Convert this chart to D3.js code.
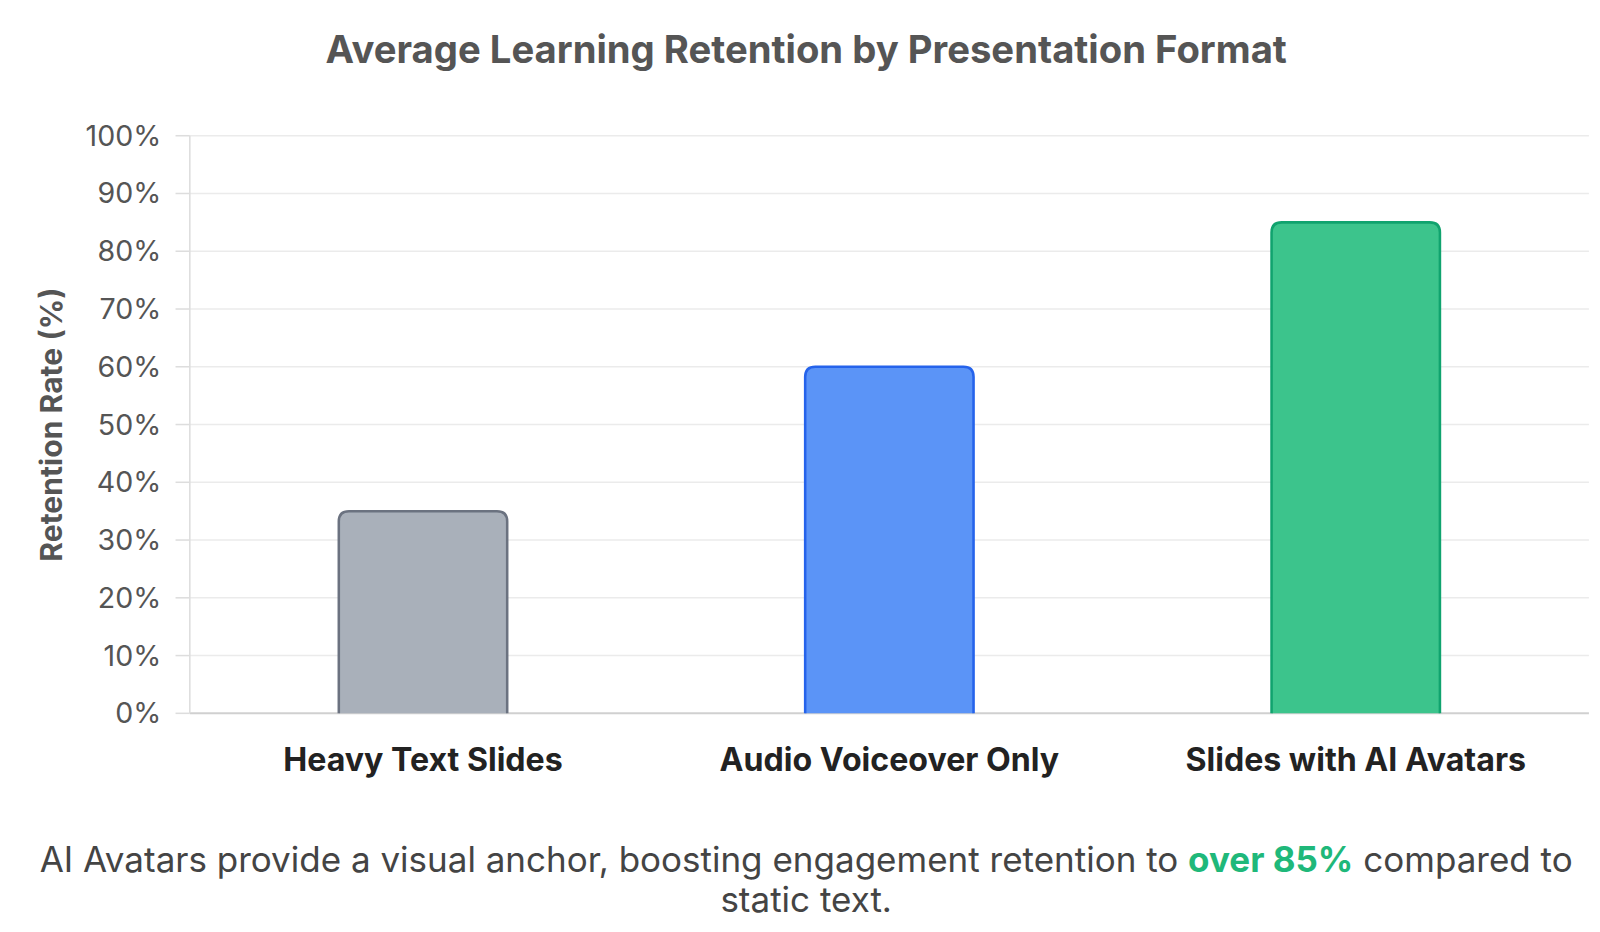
<!DOCTYPE html>
<html><head><meta charset="utf-8">
<script src="https://cdn.jsdelivr.net/npm/d3@7"></script>
<style>body{margin:0;background:#fff;font-family:"Helvetica Neue",Inter,"Liberation Sans",Arial,sans-serif}</style>
</head><body><svg id="c" width="1600" height="932"></svg>
<script>
const categories=["Heavy Text Slides","Audio Voiceover Only","Slides with AI Avatars"];
const values=[35,60,85];
const fills=["#a9b0ba","#5b94f7","#3cc48c"];
const strokes=["#6b7280","#2563eb","#10a36e"];
const yTicks=[0,10,20,30,40,50,60,70,80,90,100];

const svg=d3.select("#c").append("g").attr("transform","scale(1.0205)");
const L=186,R=1557,T=133,B=699;
const x=d3.scaleBand().domain(categories).range([L,R]);
const y=d3.scaleLinear().domain([0,100]).range([B,T]);

svg.append("text").attr("x",790).attr("y",62).attr("text-anchor","middle")
 .attr("font-size",37.5).attr("font-weight",700).attr("fill","#555").text("Average Learning Retention by Presentation Format");

const g=svg.append("g");
yTicks.forEach(t=>{
 g.append("line").attr("x1",L).attr("x2",R).attr("y1",y(t)).attr("y2",y(t)).attr("stroke",t===0?"#d0d0d0":"#ebebeb").attr("stroke-width",t===0?2:1.5);
 g.append("line").attr("x1",L-14).attr("x2",L).attr("y1",y(t)).attr("y2",y(t)).attr("stroke","#ddd").attr("stroke-width",1.5);
 g.append("text").attr("x",158).attr("y",y(t)).attr("dy","0.35em").attr("text-anchor","end")
  .attr("font-size",28).attr("fill","#555").text(t+"%");
});
g.append("line").attr("x1",L).attr("x2",L).attr("y1",T).attr("y2",B).attr("stroke","#ddd").attr("stroke-width",1.5);

svg.append("text").attr("transform","translate(61,416) rotate(-90)").attr("text-anchor","middle")
 .attr("font-size",29.5).attr("font-weight",700).attr("fill","#555").text("Retention Rate (%)");

const bw=165, r=10;
categories.forEach((c,i)=>{
 const cx=x(c)+x.bandwidth()/2, x0=cx-bw/2, x1=cx+bw/2, y0=y(values[i]), yb=y(0);
 const p=`M${x0},${yb}V${y0+r}Q${x0},${y0} ${x0+r},${y0}H${x1-r}Q${x1},${y0} ${x1},${y0+r}V${yb}`;
 svg.append("path").attr("d",p).attr("fill",fills[i]).attr("stroke",strokes[i]).attr("stroke-width",2.5);
 svg.append("text").attr("x",cx).attr("y",756).attr("text-anchor","middle")
  .attr("font-size",31.5).attr("font-weight",700).attr("fill","#222").text(c);
});

const cap=svg.append("text").attr("x",790).attr("y",854).attr("text-anchor","middle").attr("font-size",34.3).attr("fill","#444");
cap.append("tspan").text("AI Avatars provide a visual anchor, boosting engagement retention to ");
cap.append("tspan").attr("font-weight",700).attr("fill","#1fb87a").text("over 85%");
cap.append("tspan").text(" compared to");
svg.append("text").attr("x",790).attr("y",894).attr("text-anchor","middle").attr("font-size",34.3).attr("fill","#444").text("static text.");
</script></body></html>
